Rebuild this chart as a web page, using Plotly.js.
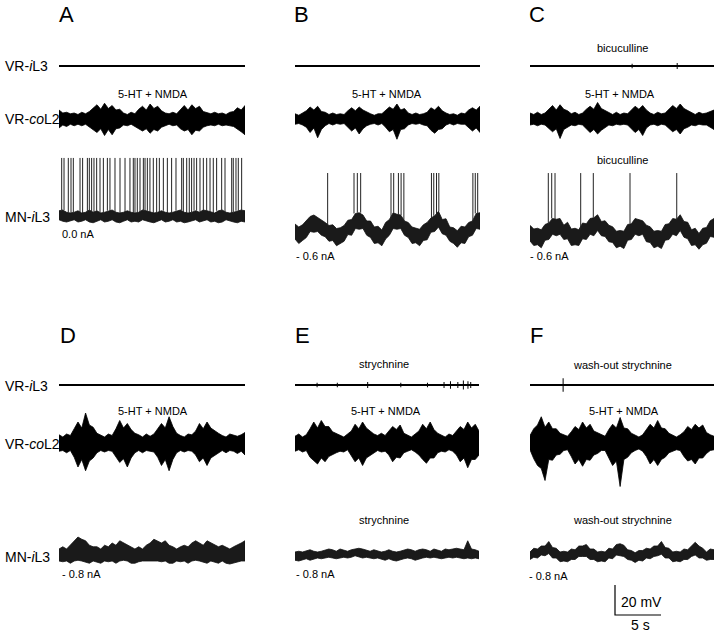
<!DOCTYPE html>
<html>
<head>
<meta charset="utf-8">
<script src="https://cdn.plot.ly/plotly-3.0.1.min.js"></script>
<style>
  html, body { margin:0; padding:0; background:#fff; }
  #plot { width:720px; height:634px; }
</style>
</head>
<body>
<div id="plot"></div>
<script>
const sweepSec = 20;

// VR-coL2 envelope (upper, lower) per bin
const coUpA = [6,4,4.5,3.5,4,3,4.5,3.5,5, 7,9.5,6.5,10.5,7,9,6,6.5, 4,3,4.5,3.5, 6.5,8.5,6,10,7,8.5,5.5, 4,3.5,4.5,3.5, 6.5,9,6,9.5,7,8.5,5,4.5, 3.5,4.5,3.5,4,3,4.5,5, 7.5,6,9];
const coLoA = [-6,-4,-5,-3.5,-4.5,-3.5,-4.5,-3.5,-5, -7,-9,-6.5,-11,-7,-10.5,-6.5,-6, -4,-4.5,-3.5,-4.5, -6.5,-8,-6.5,-9.5,-7,-8,-5.5, -4.5,-3.5,-4.5,-4, -6.5,-8,-7,-10.5,-7.5,-8,-5.5,-4.5, -4,-4.5,-3.5,-4.5,-4,-4.5,-5, -7,-8.5,-10.5];
const coUpB = [3.5,2.5,4, 5.5,8,6,8.5,5,4.5, 3,4,3,3.5,3, 5.5,7.5,5.5,8,6,4.5, 3.5,2.5,3.5,3.5, 5.5,8,6.5,10,6,7,4, 3,4,3,3.5, 4.5,7.5,6,8.5,5.5,4, 3,3.5,2.5,4,3.5, 6,7.5,6,8.5];
const coLoB = [-3.5,-3,-4, -5.5,-9,-6,-12.5,-7,-4.5, -3,-4,-3,-3.5,-3, -5.5,-8,-6,-10,-6.5,-4.5, -3.5,-3,-4,-3, -5.5,-8.5,-7,-13.5,-7,-6.5,-4, -3,-3.5,-3,-4, -4.5,-7.5,-9.5,-7,-6.5,-4, -3,-4,-3,-3.5,-3.5, -5.5,-8,-6,-9];
const coUpC = [4,3,4.5,3,4, 6.5,9,6,9.5,6.5,5.5, 3.5,4.5,3,4, 6.5,8.5,6.5,11,7,5.5, 4,3,4.5,3,4,3.5, 6,8.5,6.5,9,6, 4,3,4.5,3.5,4, 6.5,9,7,10,7,5.5, 4,3,4.5,3.5,4,5,6];
const coLoC = [-4,-3.5,-4.5,-3.5,-4, -6.5,-8.5,-6.5,-13,-7,-5.5, -4,-4.5,-3.5,-4, -6.5,-9,-7,-10,-7.5,-5.5, -4,-4.5,-3.5,-4,-3.5,-4, -6.5,-9,-7,-11,-6, -4,-3.5,-4.5,-3.5,-4, -6.5,-8.5,-7,-10,-6.5,-5.5, -4,-4.5,-3.5,-4,-4,-5.5,-7];
const coUpD = [5.5,4,6,5, 9.5,14,10,20,12,10.5,6.5, 5,4,6,5, 9.5,15,10,13,9,6.5, 5.5,4,6,4.5,6, 9.5,13,10,17.5,11,6.5, 5,4,6,5.5, 8,13,9.5,14,10,8,6.5, 5,4,6,5,4.5,5.5,7];
const coLoD = [-5.5,-5,-6.5,-5, -9.5,-16,-11,-18.5,-12,-10,-6.5, -5,-6,-5,-5.5, -9.5,-13,-10.5,-16,-10,-6.5, -5,-6.5,-5,-5.5,-6, -9.5,-15,-11,-18.5,-11,-6.5, -5,-6,-5,-5.5, -8,-12.5,-10,-15,-10,-8,-6.5, -5,-6.5,-5,-5.5,-7,-5.5,-8];
const coUpE = [4.5,6,4,5.5, 9.5,14,10,15,11,11,7.5,6.5, 5,4,6, 8,12.5,9.5,14,10,8,6, 5,6.5,5, 8,11,9,12,6.5, 5,4,6, 8,12.5,9.5,14,9,6.5, 5,4,6,5, 8,11,9,14,10,12.5,8];
const coLoE = [-5.5,-4.5,-6,-5, -9.5,-12,-14,-10,-12.5,-9,-8,-6.5, -5.5,-6,-4.5, -8,-12.5,-10,-15,-10,-8,-6.5, -5,-6,-5.5, -8,-12.5,-9.5,-10,-6.5, -5.5,-4.5,-6, -8,-11,-13.5,-10,-10,-6.5, -5.5,-6,-4.5,-5.5, -8,-12.5,-10,-16.5,-11,-11,-8];
const coUpF = [5, 9.5,12,17.5,10.5,14,9.5,9.5,6.5, 5.5,4.5, 7.5,11,9,14,10,12.5,8,7, 5.5,4.5, 9,12.5,10,17,10,9.5,6.5, 5,4,5.5, 9,12.5,10,15,10,9.5,6.5, 5.5,4,5.5, 7.5,11,9,12.5,10,12,7,5.5, 4.5];
const coLoF = [-4.5, -10.5,-15,-17,-25,-11,-11.5,-8,-7.5, -5,-4.5, -9,-14,-11,-15.5,-11,-11.5,-8,-7, -5,-5, -10.5,-15,-12,-29,-11,-9.5,-6.5, -5,-4,-5.5, -9,-14,-11,-15,-11,-9.5,-6.5, -5.5,-4.5,-5, -9,-12,-11,-14,-10,-10,-7,-5, -4.5];

// MN-iL3 membrane potential excursions (upper, lower) per bin
const mnUpA = [3.5,4,2.5,2,2.5,3.5,2,2.5,4,2.5, 3.5,2,2.5,3.5,4,2.5,2,2.5,3.5,2.5, 2,2.5,4,3.5,2.5,2,2.5,3.5,2.5,2, 2.5,3.5,4,2.5,2,2.5,3.5,2.5,4,3.5, 2.5,2,3.5,4,2.5,2,2.5,3.5,4,3.5];
const mnLoA = [-2.5,-3.5,-4,-3.5,-2.5,-4,-3.5,-2.5,-4,-4.5, -3.5,-2.5,-4,-3.5,-2.5,-4,-4.5,-3.5,-2.5,-4, -3.5,-4,-2.5,-3.5,-4,-4.5,-3.5,-2.5,-4,-3.5, -2.5,-4,-3.5,-4.5,-4,-3.5,-2.5,-4,-3.5,-2.5, -4,-3.5,-4.5,-4,-2.5,-3.5,-4,-4.5,-3.5,-4];
const mnUpB = [4,2,3.5,6,9,10,8.5,7,5,3, 3.5,1,1.5,3,6.5,7,11,11.5,10,6, 6,2,2.5,0,5,7,11.5,10.5,10,6, 5,2,1.5,0.5,3.5,5,8,9.5,12.5,7, 7.5,2,1.5,-0.5,2.5,2,5,6,11,11.5];
const mnLoB = [-6,-9,-7,-5,-1,-1.5,-1,-3.5,-4.5,-7.5, -7,-10.5,-9,-7.5,-3,-3.5,1,0.5,1,-3.5, -5,-9,-8.5,-10.5,-6,-3.5,1,0.5,1,-3.5, -5,-9,-8.5,-10.5,-7,-6.5,-1.5,-1,2,-2.5, -3.5,-7.5,-9,-11.5,-8.5,-9,-4.5,-3.5,1,0.5];
const mnUpC = [4.5,2,2.5,1.5,5,6,9,8.5,9,4.5, 6.5,2,2.5,1.5,6,5.5,9,9.5,11.5,7, 7.5,4.5,3.5,0.5,1,0.5,5,5.5,9,8.5, 7.5,4.5,3.5,0.5,1,0.5,5,5.5,9,8.5, 11.5,7,6.5,1.5,2.5,-1,2.5,3,7.5,9];
const mnLoC = [-6,-9,-8.5,-10.5,-5.5,-5,-1.5,-2.5,-1.5,-5, -4.5,-9,-8.5,-9,-4.5,-5,-1.5,-2.5,1,-2.5, -3,-6.5,-7,-10.5,-9.5,-11,-5.5,-5,-1.5,-2.5, -1.5,-6.5,-7,-10.5,-9.5,-11,-5.5,-5,-1.5,-2.5, 1,-3.5,-4.5,-9,-8.5,-11.5,-8.5,-7.5,-3,-3.5];
const mnUpD = [4,5.5,4,6.5,9.5,12,10.5,9.5,6.5,5.5, 5.5,4,6.5,5.5,8,6.5,9.5,8,6.5,5.5, 4,5.5,4,6.5,8,10.5,9.5,8,9.5,6.5, 5.5,4,5.5,6.5,5.5,8,9.5,8,6.5,9.5, 8,6.5,5.5,6.5,5.5,4,5.5,6.5,8,9.5];
const mnLoD = [-4,-4.5,-4,-5.5,-4,-3.5,-4,-4.5,-5.5,-4, -4.5,-5.5,-4,-4.5,-4,-5.5,-4,-3.5,-4,-5.5, -5.5,-4.5,-4,-4,-3.5,-4,-4,-4.5,-4,-5.5, -5.5,-4,-4.5,-4,-5.5,-4,-3.5,-4,-4.5,-5.5, -4,-4.5,-5.5,-4,-5.5,-6,-5.5,-4.5,-4,-4];
const mnUpE = [2,2.5,2,2.5,3.5,2.5,2,2.5,3.5,4, 3.5,2.5,4,3.5,2.5,3.5,4,4.5,4,3.5, 2.5,3.5,2.5,2,2.5,3.5,2.5,2,2.5,3.5, 4,3.5,2.5,3.5,4,3.5,2.5,4,3.5,2.5, 4,3.5,4,4.5,4,3.5,9.5,4,3.5,2.5];
const mnLoE = [-3.5,-4,-3.5,-2.5,-3.5,-2.5,-2,-2.5,-2,-1.5, -2,-2.5,-2,-1.5,-2,-1.5,-0.5,-1.5,-2,-1.5, -2,-2.5,-2,-2.5,-3.5,-2.5,-3.5,-4,-3.5,-2.5, -2,-2.5,-3.5,-2.5,-2,-1.5,-2,-1.5,-2,-2.5, -2,-1.5,-2,-1.5,-2,-2.5,-2,-2.5,-2,-2.5];
const mnUpF = [2,4.5,4,6,6,9,5,4.5,2,2.5, 2,4,3.5,6,6,7,4,4,2,2.5, 2,4.5,4,7,7.5,6.5,3.5,3,1.5,3, 3,4.5,4,6,6,9,5,4.5,2,2.5, 2,4,3.5,6,8.5,6,4.5,2,4,3.5];
const mnLoF = [-3,-1.5,-2,0,-0.5,1,-2,-2,-4.5,-4, -4.5,-3,-3,-1,-1,-1,-3,-3,-4.5,-4, -4.5,-2,-2.5,0,-0.5,-1,-3,-3.5,-5,-3.5, -4,-2,-2.5,-1,-0.5,0.5,-2,-2,-4.5,-4, -4.5,-3,-3,-1,0,-2,-2,-3.5,-3,-3];

// MN action potentials: times (s) and peak (mV above the MN lane)
const spikesA = [0.29,0.54,1.0,1.29,1.54,2.26,2.54,3.05,3.26,3.51,3.76,4.05,4.41,4.77,5.2,5.48,6.02,6.56,7.1,7.63,7.99,8.17,8.42,8.71,9.07,9.25,9.5,9.78,10.14,10.5,10.79,11.22,11.65,12.11,12.58,13.19,13.37,13.73,14.01,14.26,14.52,14.8,15.16,15.52,15.88,16.24,16.59,16.95,17.49,17.85,18.57,18.74,19.03,19.28,19.64];
const spikesB = [3.53,6.38,6.74,7.1,10.38,10.67,11.18,11.47,11.77,14.75,15.0,15.3,15.55,19.23,19.49,19.75];
const spikesC = [1.99,2.36,2.72,5.51,6.88,10.87,15.95];
const spikePeak = { A: 38.7, B: 38, C: 39.3 };

// small deflections on the VR-iL3 trace: times (s) and size (mV)
const il3TickT = { C: [11.1, 16.0], E: [2.4,4.6,7.9,11.5,14.4,16.2,16.9,17.7,18.3,18.8,19.1], F: [3.6] };
const il3TickH = { C: [1.5, 2], E: [1.5,1.5,2,1.5,1.5,2,2.5,2,3,2.5,2], F: [4.5] };

const rowLabels = ["VR-<i>i</i>L3", "VR-<i>co</i>L2", "MN-<i>i</i>L3"];
const currents = { A: "0.0 nA", B: "- 0.6 nA", C: "- 0.6 nA", D: "- 0.8 nA", E: "- 0.8 nA", F: "- 0.8 nA" };
const scaleMv = 20, scaleSec = 5;

// ---- layout (pixels) ----
const W = 720, H = 634, pxPerMv = 1.5;
const FONT = "Liberation Sans, Arial, sans-serif";
const rowBox = { top: [0, 262], bottom: [300, 634] };
const lanePx = { top: { il3: 66, co: 119 }, bottom: { il3: 385, co: 443 } };

const panels = [
  { id: "A", row: "top",    px: [59, 245],  co: [coUpA, coLoA], mn: [mnUpA, mnLoA], mnPx: 216, spikes: spikesA },
  { id: "B", row: "top",    px: [295, 480], co: [coUpB, coLoB], mn: [mnUpB, mnLoB], mnPx: 230, spikes: spikesB },
  { id: "C", row: "top",    px: [530, 714], co: [coUpC, coLoC], mn: [mnUpC, mnLoC], mnPx: 232, spikes: spikesC },
  { id: "D", row: "bottom", px: [59, 245],  co: [coUpD, coLoD], mn: [mnUpD, mnLoD], mnPx: 555, spikes: [] },
  { id: "E", row: "bottom", px: [295, 479], co: [coUpE, coLoE], mn: [mnUpE, mnLoE], mnPx: 555, spikes: [] },
  { id: "F", row: "bottom", px: [530, 714], co: [coUpF, coLoF], mn: [mnUpF, mnLoF], mnPx: 555, spikes: [] }
];

function mvAt(row, p){ return (rowBox[row][1] - p) / pxPerMv; }

const data = [];
const layout = {
  width: W, height: H,
  margin: { l: 0, r: 0, t: 0, b: 0 },
  paper_bgcolor: "#fff", plot_bgcolor: "rgba(0,0,0,0)",
  showlegend: false,
  font: { family: FONT, color: "#000" },
  annotations: []
};

panels.forEach((p, k) => {
  const n = k + 1;
  const sfx = n === 1 ? "" : String(n);
  const xa = "x" + sfx, ya = "y" + sfx;
  const box = rowBox[p.row];
  layout["xaxis" + sfx] = {
    domain: [p.px[0] / W, p.px[1] / W], range: [0, sweepSec], visible: false, fixedrange: true
  };
  layout["yaxis" + sfx] = {
    domain: [1 - box[1] / H, 1 - box[0] / H], range: [0, (box[1] - box[0]) / pxPerMv],
    visible: false, fixedrange: true, anchor: xa
  };

  const offIl3 = mvAt(p.row, lanePx[p.row].il3);
  const offCo = mvAt(p.row, lanePx[p.row].co);
  const offMn = mvAt(p.row, p.mnPx);

  // VR-iL3 baseline
  data.push({ type: "scatter", mode: "lines", xaxis: xa, yaxis: ya,
    x: [0, sweepSec], y: [offIl3, offIl3], line: { color: "#000", width: 2.2 }, hoverinfo: "skip" });
  if (il3TickT[p.id]) {
    const tx = [], ty = [];
    il3TickT[p.id].forEach((t, i) => { tx.push(t, t, null); ty.push(offIl3 - il3TickH[p.id][i], offIl3 + il3TickH[p.id][i], null); });
    data.push({ type: "scatter", mode: "lines", xaxis: xa, yaxis: ya, x: tx, y: ty,
      line: { color: "#000", width: 1 }, hoverinfo: "skip" });
  }

  // VR-coL2 envelope band
  const [up, lo] = p.co;
  const tb = up.map((_, i) => i * sweepSec / (up.length - 1));
  data.push({ type: "scatter", mode: "lines", xaxis: xa, yaxis: ya,
    x: tb.concat(tb.slice().reverse()),
    y: up.map(v => offCo + v).concat(lo.map(v => offCo + v).reverse()),
    fill: "toself", fillcolor: "#000", line: { color: "#000", width: 0.8 }, hoverinfo: "skip" });

  // MN-iL3 band of the excursions
  const [mu, ml] = p.mn;
  const tm = mu.map((_, i) => i * sweepSec / (mu.length - 1));
  data.push({ type: "scatter", mode: "lines", xaxis: xa, yaxis: ya,
    x: tm.concat(tm.slice().reverse()),
    y: mu.map(v => offMn + v).concat(ml.map(v => offMn + v).reverse()),
    fill: "toself", fillcolor: "#1a1a1a", line: { color: "#111", width: 0.8 }, hoverinfo: "skip" });

  if (p.spikes.length) {
    const sx = [], sy = [];
    p.spikes.forEach(t => {
      const i = Math.min(mu.length - 1, Math.round(t / sweepSec * (mu.length - 1)));
      sx.push(t, t, null);
      sy.push(offMn + mu[i], offMn + spikePeak[p.id], null);
    });
    data.push({ type: "scatter", mode: "lines", xaxis: xa, yaxis: ya, x: sx, y: sy,
      line: { color: "#222", width: 1 }, hoverinfo: "skip" });
  }

  if (p.id === "F") {
    const x0 = (615 - p.px[0]) / (p.px[1] - p.px[0]) * sweepSec;
    const y0 = mvAt(p.row, 615);
    data.push({ type: "scatter", mode: "lines", xaxis: xa, yaxis: ya,
      x: [x0, x0, x0 + scaleSec], y: [y0 + scaleMv, y0, y0],
      line: { color: "#000", width: 1.2 }, hoverinfo: "skip" });
  }
});

function ann(text, x, y, size, xanchor){
  layout.annotations.push({ text, x: x / W, y: 1 - y / H, xref: "paper", yref: "paper",
    xanchor: xanchor || "left", yanchor: "middle", showarrow: false,
    font: { family: FONT, size, color: "#000" } });
}

// panel letters
[["A",59,15],["B",294,15],["C",529,15],["D",60,335],["E",295,335],["F",530,335]]
  .forEach(a => ann(a[0], a[1] - 2, a[2], 22));

// row labels
[[66,119,217],[386,444,557]].forEach(ys => {
  rowLabels.forEach((t, i) => ann(t, 3, ys[i], 14));
});

// conditions
[153, 387, 620].forEach(x => ann("5-HT + NMDA", x, 94, 11, "center"));
[153, 386, 624].forEach(x => ann("5-HT + NMDA", x, 411, 11, "center"));
ann("bicuculline", 622, 48, 11, "center");
ann("bicuculline", 622, 160, 11, "center");
ann("strychnine", 384, 364, 11, "center");
ann("strychnine", 384, 520, 11, "center");
ann("wash-out strychnine", 622, 365, 11, "center");
ann("wash-out strychnine", 622, 520, 11, "center");

// holding currents
ann(currents.A, 60, 234, 11); ann(currents.B, 294, 256, 11); ann(currents.C, 528, 256, 11);
ann(currents.D, 60, 574, 11); ann(currents.E, 294, 574, 11); ann(currents.F, 527, 576, 11);

// scale bar labels
ann(scaleMv + " mV", 619, 602, 14);
ann(scaleSec + " s", 640, 625, 14, "center");

Plotly.newPlot("plot", data, layout, { staticPlot: true });
</script>
</body>
</html>
